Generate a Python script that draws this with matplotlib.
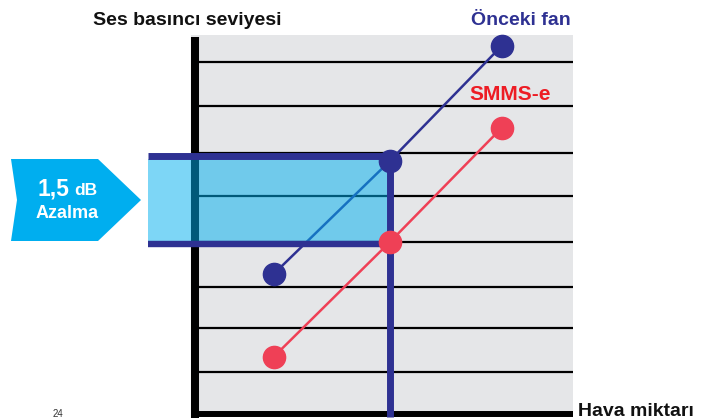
import matplotlib.pyplot as plt
from matplotlib.patches import Polygon

plt.rcParams['font.family'] = ['Liberation Sans', 'DejaVu Sans']

# airflow positions of the points (arbitrary units)
airflow = [2.17, 5.21, 8.14]
# sound pressure level (arbitrary units)
old_fan = [3.21, 5.76, 8.36]
smms_e = [1.34, 3.93, 6.51]
grid_levels = [0.99, 1.99, 2.91, 3.93, 4.97, 5.94, 7.0, 7.98]
band_top = 5.88
band_bottom = 3.88
band_left = -1.13

navy = '#2e3192'
red = '#ef4056'
cyan = '#00aeef'
gray = '#e5e6e8'

fig = plt.figure(figsize=(7.06, 4.19), dpi=100)
W, H = 706, 419

# main plotting area (pixel box of the grey panel)
x0, x1, ytop, ybot = 191, 573, 35, 416
ax = fig.add_axes([x0 / W, (H - ybot) / H, (x1 - x0) / W, (ybot - ytop) / H])
ax.set_facecolor(gray)
ax.set_xlim(0, 10)
ax.set_ylim(0, 8.6)
for s in ax.spines.values():
    s.set_visible(False)
ax.set_xticks([])
ax.set_yticks([])

for g in grid_levels:
    ax.axhline(g, color='black', lw=1.6, zorder=1, solid_capstyle='butt')

# axes lines
ax.axvline(0.1, ymin=-0.004, ymax=0.995, color='black', lw=5.8, zorder=2, clip_on=False,
           solid_capstyle='butt')
ax.axhline(0.045, xmin=0, xmax=1, color='black', lw=4.3, zorder=2, clip_on=False,
           solid_capstyle='butt')

ax.plot(airflow, old_fan, color=navy, lw=1.8, zorder=3)
ax.plot(airflow, smms_e, color=red, lw=1.8, zorder=3)

# reduction band
ax.fill_between([band_left, airflow[1]], 3.92, 5.80, color='#00b0ef', alpha=0.51,
                lw=0, zorder=4, clip_on=False)
ax.plot([band_left, airflow[1]], [band_top, band_top], color=navy, lw=5, zorder=5,
        clip_on=False, solid_capstyle='butt')
ax.plot([band_left, airflow[1]], [band_bottom, band_bottom], color=navy, lw=4.6, zorder=5,
        clip_on=False, solid_capstyle='butt')
ax.plot([airflow[1], airflow[1]], [old_fan[1], -0.03], color=navy, lw=5, zorder=5,
        clip_on=False, solid_capstyle='butt')

ax.plot(airflow, old_fan, 'o', color=navy, ms=16, zorder=6, clip_on=False)
ax.plot(airflow, smms_e, 'o', color=red, ms=16, zorder=6, clip_on=False)

# overlay in pixel coordinates for labels and the arrow
ov = fig.add_axes([0, 0, 1, 1], facecolor='none')
ov.set_xlim(0, W)
ov.set_ylim(H, 0)
ov.axis('off')

arrow = Polygon([(11, 159), (98, 159), (141, 200), (98, 241), (11, 241), (17, 200)],
                closed=True, facecolor=cyan, edgecolor='none')
ov.add_patch(arrow)
ov.text(69, 195, '1,5', color='white', fontsize=16.5, fontweight='bold', ha='right', va='baseline')
ov.text(74, 195, 'dB', color='white', fontsize=12.5, fontweight='bold', ha='left', va='baseline')
ov.text(67, 218, 'Azalma', color='white', fontsize=13, fontweight='bold', ha='center', va='baseline')

ov.text(93, 25, 'Ses basıncı seviyesi', fontsize=14, fontweight='bold', color='#111111',
        ha='left', va='baseline')
ov.text(571, 25, 'Önceki fan', fontsize=14, fontweight='bold', color=navy,
        ha='right', va='baseline')
ov.text(551, 100, 'SMMS-e', fontsize=15, fontweight='bold', color='#ed1c24',
        ha='right', va='baseline')
ov.text(578, 416, 'Hava miktarı', fontsize=14, fontweight='bold', color='#111111',
        ha='left', va='baseline')
ov.text(58, 417, '24', fontsize=7, color='#333333', ha='center', va='baseline')

fig.savefig('out.png', dpi=100)
